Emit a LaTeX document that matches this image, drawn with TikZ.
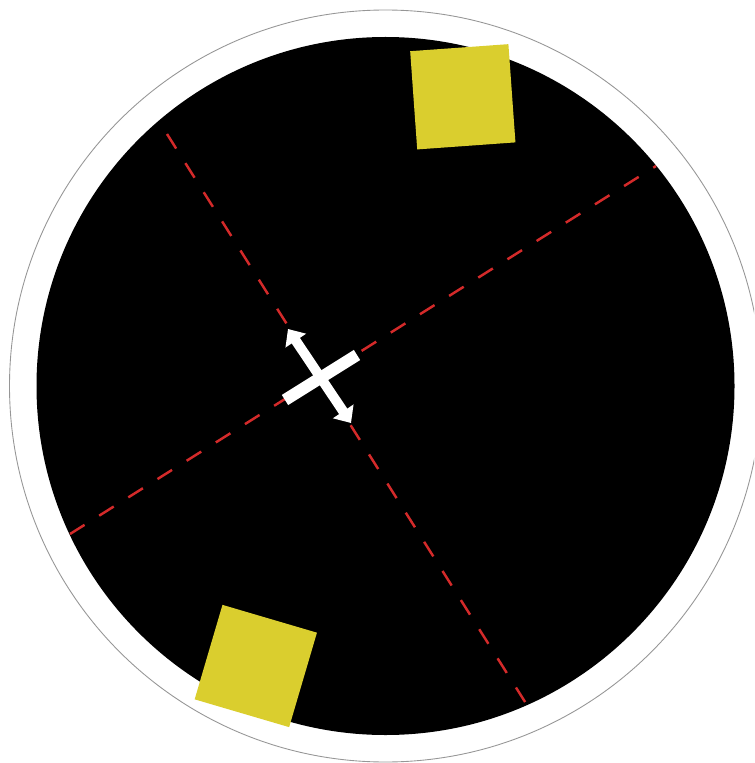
\documentclass[tikz,border=0pt]{standalone}
\usepackage{tikz}
\usetikzlibrary{arrows.meta}
\definecolor{tileyellow}{RGB}{218, 206, 46}
\definecolor{axisred}{RGB}{212, 42, 42}
\definecolor{rimgray}{RGB}{150, 150, 150}

\begin{document}
\begin{tikzpicture}[
  x=0.02cm, y=-0.02cm,
  rim/.style={draw=rimgray, line width=0.5pt},
  disk/.style={fill=black},
  tile/.style={draw=none, fill=tileyellow, minimum size=1.97cm, inner sep=0pt},
  axis/.style={draw=axisred, line width=1.4pt, dash pattern=on 9.8pt off 9.8pt},
  bar/.style={draw=white, line width=6.8pt},
  arr/.style={draw=white, line width=5.6pt, {Triangle[length=0.28cm, width=0.48cm]}-{Triangle[length=0.28cm, width=0.48cm]}}
]
\clip (0,0) rectangle (754,763);
% plate
\coordinate (mid) at (385.5,386);
\draw[rim] (mid) circle[radius=376];
\fill[disk] (mid) circle[radius=349];
% yellow tiles
\node[tile, rotate=4.1] (tileA) at (462.8,96.8) {};
\node[tile, rotate=-16.4] (tileB) at (255.8,666) {};
% axes
\coordinate (ax1a) at (167,134);
\coordinate (ax1b) at (527,705);
\coordinate (ax2a) at (70,534);
\coordinate (ax2b) at (656,166);
\draw[axis] (ax1a) -- (ax1b);
\draw[axis] (ax2a) -- (ax2b);
% cross
\coordinate (barL) at (285,400);
\coordinate (barR) at (357,355);
\coordinate (tipU) at (288,329);
\coordinate (tipD) at (351,423);
\draw[bar] (barL) -- (barR);
\draw[arr] (tipU) -- (tipD);
\end{tikzpicture}
\end{document}
